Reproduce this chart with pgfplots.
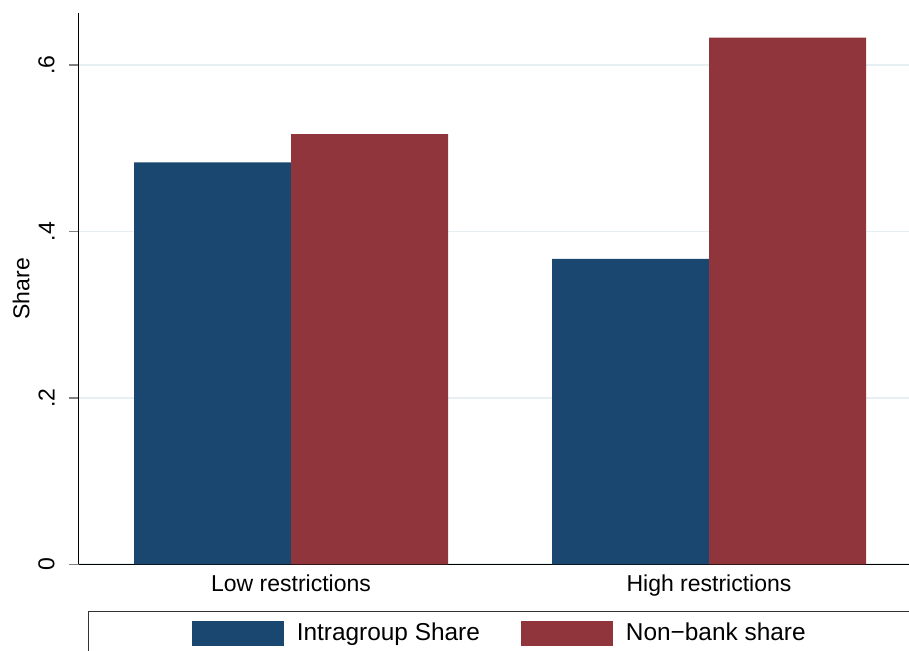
\documentclass[border=0pt]{standalone}
\usepackage{fontspec}
\setmainfont{Liberation Sans}
\usepackage{pgfplots}
\pgfplotsset{compat=1.18}
\definecolor{sblue}{HTML}{1A476F}
\definecolor{sred}{HTML}{90353B}
\definecolor{gridc}{HTML}{E6EFF1}
\newcommand{\fs}{\fontsize{11.5}{13.8}\selectfont}
\newcommand{\lfs}{\fontsize{12.2}{14.6}\selectfont}

\begin{document}
\begin{tikzpicture}
\begin{axis}[
  at={(39.25pt,42.85pt)}, anchor=south west,
  scale only axis, width=415.25pt, height=275.65pt,
  ybar=0pt, bar width=78.5pt,
  xmin=0.4916, xmax=2.4785,
  ymin=0, ymax=0.6626,
  axis x line=bottom, axis y line=left,
  axis line style={-, line width=0.6pt},
  xtick={1,2},
  xticklabels={Low restrictions, High restrictions},
  xtick style={draw=none},
  ytick={0,0.2,0.4,0.6},
  yticklabels={0,.2,.4,.6},
  major tick length=4.75pt,
  tick align=outside,
  ytick style={line width=0.6pt},
  ymajorgrids,
  grid style={gridc, line width=0.9pt},
  xticklabel style={font=\fs, inner sep=0pt, anchor=north, yshift=-0.3pt},
  yticklabel style={font=\fs, rotate=90, anchor=south, inner xsep=0pt, inner ysep=7pt},
  ylabel={Share},
  ylabel style={font=\fs, at={(axis description cs:-0.0692,0.5)}, anchor=center},
  legend columns=2,
  legend style={draw=none, fill=none, font=\lfs,
    at={(axis description cs:0.506,-0.1252)}, anchor=center,
    nodes={inner sep=0pt, anchor=west},
    /tikz/every even column/.append style={column sep=20.5pt}},
  every axis plot post/.append style={
    legend image code/.code={\fill[##1] (0pt,-6.2pt) rectangle (46pt,6.2pt);
      \path[draw=none, fill=none] (0pt,-6.2pt) rectangle (52.5pt,6.2pt);}},
]
\addplot[fill=sblue, draw=none] coordinates {(1,0.483) (2,0.367)};
\addplot[fill=sred, draw=none] coordinates {(1,0.517) (2,0.633)};
\legend{Intragroup Share, Non−bank share}
\end{axis}
% legend frame runs off the page on the right and bottom
\begin{scope}
\clip (0,0) rectangle (454.5pt,325pt);
\draw[color=black!80, line width=0.5pt] (44pt,19.15pt) rectangle (470pt,-10pt);
\end{scope}
\pgfresetboundingbox
\useasboundingbox (0,0) rectangle (454.5pt,325pt);
\end{tikzpicture}
\end{document}
